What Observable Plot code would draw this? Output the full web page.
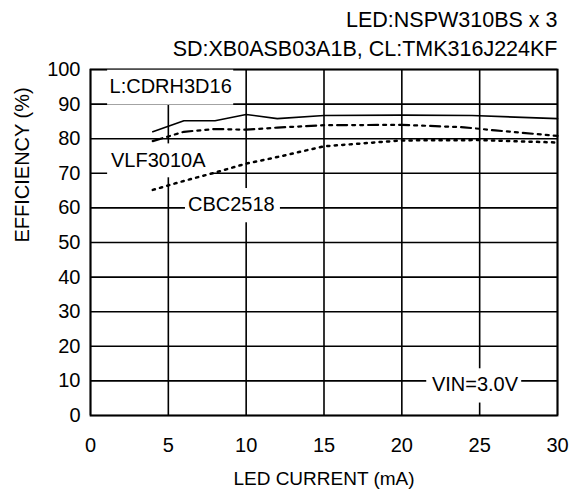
<!DOCTYPE html>
<html>
<head>
<meta charset="utf-8">
<script src="https://cdn.jsdelivr.net/npm/d3@7"></script>
<script src="https://cdn.jsdelivr.net/npm/@observablehq/plot@0.6"></script>
<style>
  body { margin: 0; background: white; }
</style>
</head>
<body>
<div id="chart"></div>
<script>
// ---- data ----
const xTicks = [0, 5, 10, 15, 20, 25, 30];
const yTicks = [0, 10, 20, 30, 40, 50, 60, 70, 80, 90, 100];

const currentCDRH = [4, 6, 8, 10, 12, 15, 20, 24.5, 30];
const effCDRH     = [82, 85.2, 85.2, 87, 85.8, 86.7, 86.8, 86.7, 85.8];

const currentVLF  = [4, 6, 8, 10, 12, 15, 20, 24, 26, 30];
const effVLF      = [79.3, 82, 82.8, 82.6, 83.2, 83.9, 84, 83.3, 82.4, 80.8];

const currentCBC  = [4, 6, 8, 10, 12, 15, 20, 25, 30];
const effCBC      = [65.2, 67.8, 70.2, 72.8, 74.7, 77.8, 79.5, 79.6, 78.9];

const titleLines = ["LED:NSPW310BS x 3", "SD:XB0ASB03A1B, CL:TMK316J224KF"];
const xLabel = "LED CURRENT (mA)";
const yLabel = "EFFICIENCY (%)";

// annotation labels (text, anchor in data units, white box extents in data units)
const labelText = ["L:CDRH3D16", "VLF3010A", "CBC2518", "VIN=3.0V"];
const labelX    = [5.15, 4.35, 9.05, 24.7];
const labelY    = [95.2, 73.6, 61.0, 9.0];
const boxX1     = [1.1, 1.1, 6.1, 21.6];
const boxX2     = [9.2, 7.85, 12.2, 27.7];
const boxY1     = [89.7, 68.7, 55.7, 3.6];
const boxY2     = [99.8, 78.5, 65.6, 13.5];

// ---- build tables ----
const series = (xs, ys) => xs.map((x, i) => ({x, y: ys[i]}));
const cdrh = series(currentCDRH, effCDRH);
const vlf = series(currentVLF, effVLF);
const cbc = series(currentCBC, effCBC);
const labels = labelText.map((t, i) => ({
  t, x: labelX[i], y: labelY[i],
  x1: boxX1[i], x2: boxX2[i], y1: boxY1[i], y2: boxY2[i]
}));

const font = "'Liberation Sans', Arial, sans-serif";

const chart = Plot.plot({
  width: 580,
  height: 490,
  marginTop: 69,
  marginRight: 23,
  marginBottom: 75,
  marginLeft: 90,
  style: { fontFamily: font, fontSize: "20px", color: "black", background: "white", overflow: "visible" },
  x: { domain: [0, 30], label: null },
  y: { domain: [0, 100], label: null },
  marks: [
    Plot.gridX(xTicks, { stroke: "black", strokeOpacity: 1, strokeWidth: 1.6 }),
    Plot.gridY(yTicks, { stroke: "black", strokeOpacity: 1, strokeWidth: 1.6 }),
    Plot.frame({ stroke: "black", strokeWidth: 1.8 }),
    Plot.axisX(xTicks, { tickSize: 0, tickPadding: 22, fontSize: 20, label: null }),
    Plot.axisY(yTicks, { tickSize: 0, tickPadding: 10, fontSize: 20, label: null }),
    Plot.rect(labels, { x1: "x1", x2: "x2", y1: "y1", y2: "y2", fill: "white" }),
    Plot.line(cdrh, { x: "x", y: "y", stroke: "black", strokeWidth: 1.6 }),
    Plot.line(vlf, { x: "x", y: "y", stroke: "black", strokeWidth: 2.2, strokeDasharray: "10,5,3,5,3,5" }),
    Plot.line(cbc, { x: "x", y: "y", stroke: "black", strokeWidth: 2.5, strokeDasharray: "2.2,5.3" }),
    Plot.text(labels, { x: "x", y: "y", text: "t", fontSize: 20, fill: "black" }),
    Plot.text([titleLines[0]], { frameAnchor: "top-right", lineAnchor: "middle", dy: -49, textAnchor: "end", fontSize: 21.5, fill: "black" }),
    Plot.text([titleLines[1]], { frameAnchor: "top-right", lineAnchor: "middle", dy: -20, textAnchor: "end", fontSize: 21.5, fill: "black" }),
    Plot.text([xLabel], { frameAnchor: "bottom", lineAnchor: "middle", dy: 63, fontSize: 19, fill: "black" }),
    Plot.text([yLabel], { frameAnchor: "left", dx: -68, rotate: -90, fontSize: 20, fill: "black" })
  ]
});

document.getElementById("chart").appendChild(chart);
</script>
</body>
</html>
